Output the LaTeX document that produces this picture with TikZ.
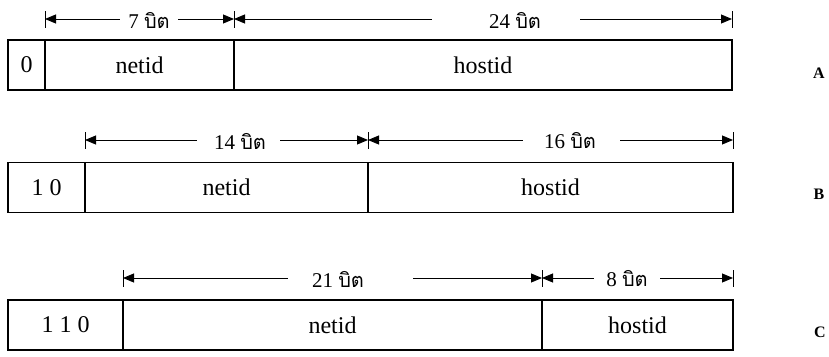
\documentclass[tikz,border=0pt]{standalone}
\usepackage{fontspec}
\setmainfont{Liberation Serif}
\newfontfamily\thaifont[Script=Thai]{Loma}
\usetikzlibrary{arrows.meta}
\tikzset{
  cell/.style={draw, line width=1.1pt, inner sep=0pt, minimum height=50pt, font=\fontsize{24}{26}\selectfont},
  dim/.style={line width=0.9pt},
  tick/.style={line width=1pt},
  tipL/.style={{Triangle[length=11pt,width=9pt]}-},
  tipR/.style={-{Triangle[length=11pt,width=9pt]}},
  lab/.style={inner sep=0pt, font=\fontsize{21}{23}\selectfont},
  cls/.style={inner sep=0pt, font=\fontsize{16}{18}\selectfont\bfseries}
}
\newcommand{\bitlab}[1]{#1~{\thaifont\fontsize{20}{22}\selectfont บิต}}
\begin{document}
\begin{tikzpicture}[x=1pt,y=-1pt]
\useasboundingbox (0,0) rectangle (829,356);
% ---------- Row A ----------
\node[cell, minimum width=37pt]  (a0) at (26.5,65) {0};
\node[cell, minimum width=189pt] (a1) at (139.5,65) {netid};
\node[cell, minimum width=498pt] (a2) at (483,65) {hostid};
\node[cls] (A) at (819,73) {A};
\foreach \n/\x in {ta1/45, ta2/234, ta3/732} {
  \coordinate (\n t) at (\x,11); \coordinate (\n b) at (\x,28);
  \draw[tick] (\n t) -- (\n b);
}
\coordinate (pa1) at (45,19);  \coordinate (qa1) at (120,19);
\coordinate (ra1) at (178,19); \coordinate (sa1) at (234,19);
\coordinate (pa2) at (234,19); \coordinate (qa2) at (432,19);
\coordinate (ra2) at (580,19); \coordinate (sa2) at (732,19);
\node[lab] (la1) at (149,20) {\bitlab{7}};
\node[lab] (la2) at (515,20) {\bitlab{24}};
\draw[dim, tipL] (pa1) -- (qa1);
\draw[dim, tipR] (ra1) -- (sa1);
\draw[dim, tipL] (pa2) -- (qa2);
\draw[dim, tipR] (ra2) -- (sa2);
% ---------- Row B ----------
\node[cell, minimum width=77pt]  (b0) at (46.5,187.5) {1 0};
\node[cell, minimum width=283pt] (b1) at (226.5,187.5) {netid};
\node[cell, minimum width=365pt] (b2) at (550.5,187.5) {hostid};
\node[cls] (B) at (819,194) {B};
\foreach \n/\x in {tb1/85, tb2/368, tb3/733} {
  \coordinate (\n t) at (\x,132); \coordinate (\n b) at (\x,149);
  \draw[tick] (\n t) -- (\n b);
}
\coordinate (pb1) at (85,140);  \coordinate (qb1) at (197,140);
\coordinate (rb1) at (280,140); \coordinate (sb1) at (368,140);
\coordinate (pb2) at (368,140); \coordinate (qb2) at (523,140);
\coordinate (rb2) at (620,140); \coordinate (sb2) at (733,140);
\node[lab] (lb1) at (240,141) {\bitlab{14}};
\node[lab] (lb2) at (570,141) {\bitlab{16}};
\draw[dim, tipL] (pb1) -- (qb1);
\draw[dim, tipR] (rb1) -- (sb1);
\draw[dim, tipL] (pb2) -- (qb2);
\draw[dim, tipR] (rb2) -- (sb2);
% ---------- Row C ----------
\node[cell, minimum width=115pt] (c0) at (65.5,325) {1 1 0};
\node[cell, minimum width=419pt] (c1) at (332.5,325) {netid};
\node[cell, minimum width=191pt] (c2) at (637.5,325) {hostid};
\node[cls] (C) at (820,332) {C};
\foreach \n/\x in {tc1/123, tc2/542, tc3/733} {
  \coordinate (\n t) at (\x,270); \coordinate (\n b) at (\x,287);
  \draw[tick] (\n t) -- (\n b);
}
\coordinate (pc1) at (123,278); \coordinate (qc1) at (288,278);
\coordinate (rc1) at (413,278); \coordinate (sc1) at (542,278);
\coordinate (pc2) at (542,278); \coordinate (qc2) at (594,278);
\coordinate (rc2) at (660,278); \coordinate (sc2) at (733,278);
\node[lab] (lc1) at (338,279) {\bitlab{21}};
\node[lab] (lc2) at (627,279) {\bitlab{8}};
\draw[dim, tipL] (pc1) -- (qc1);
\draw[dim, tipR] (rc1) -- (sc1);
\draw[dim, tipL] (pc2) -- (qc2);
\draw[dim, tipR] (rc2) -- (sc2);
\end{tikzpicture}
\end{document}
